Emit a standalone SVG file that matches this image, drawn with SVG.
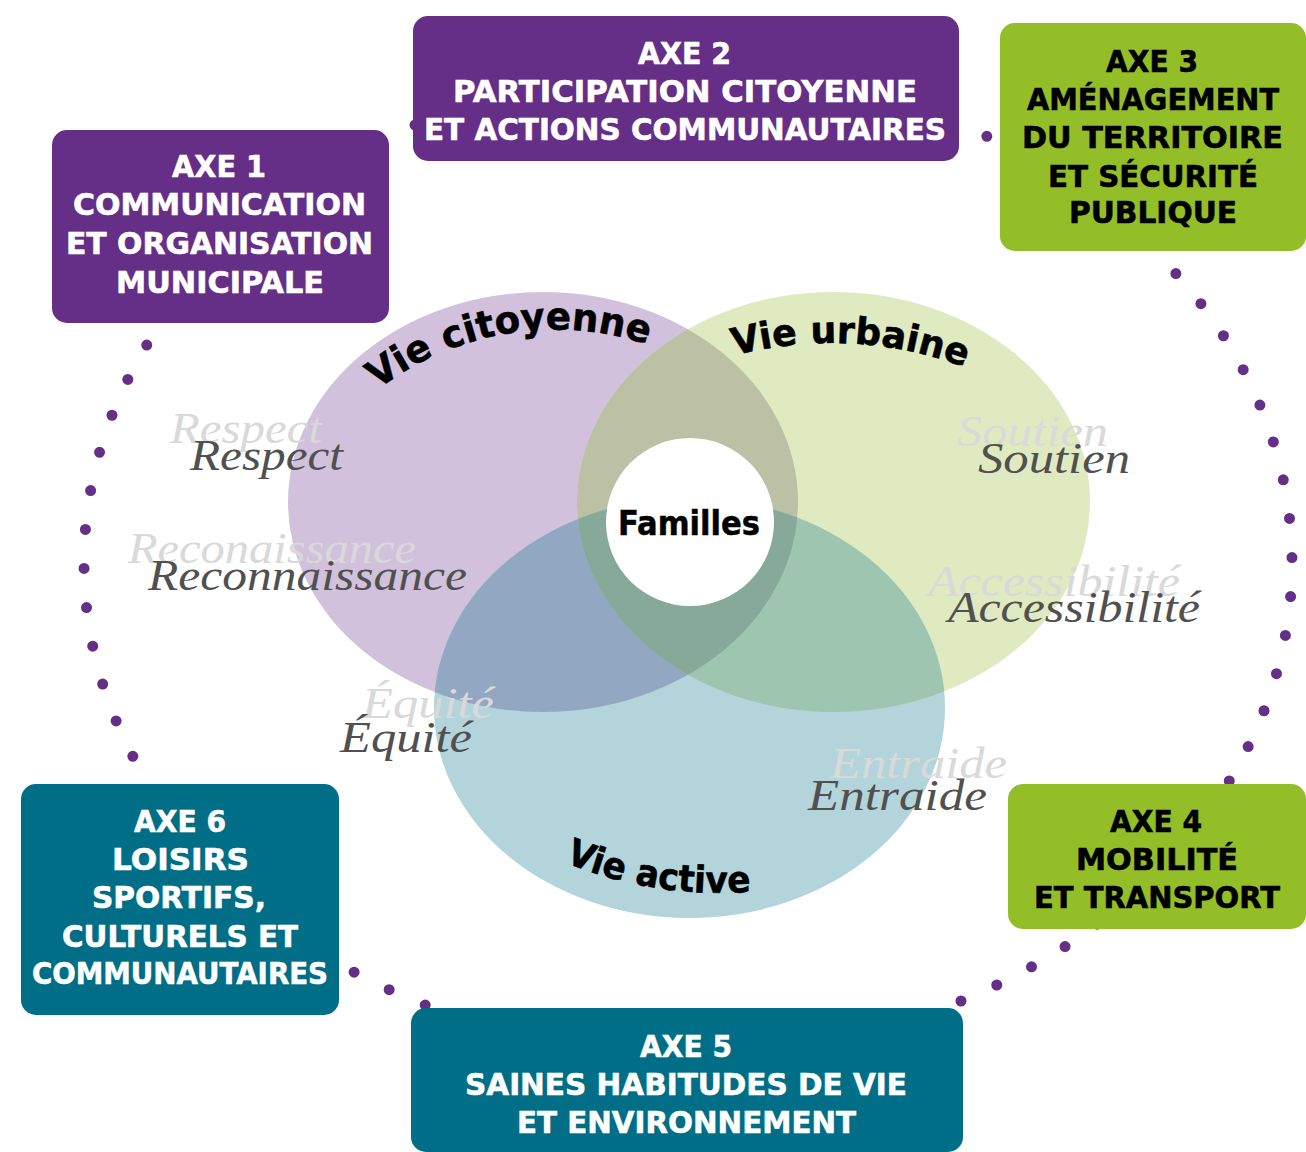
<svg xmlns="http://www.w3.org/2000/svg" width="1306" height="1152" viewBox="0 0 1306 1152">
<defs>
<style>
.bt{font-family:"DejaVu Sans","Liberation Sans",sans-serif;font-weight:bold;font-size:30px;text-anchor:middle;stroke-width:0.6px}
.w{fill:#ffffff;stroke:#ffffff}
.k{fill:#000000;stroke:#000000}
.purple{fill:#652F87}
.green{fill:#93BE27}
.teal{fill:#006E86}
.sc{font-family:"Liberation Serif",serif;font-style:italic;font-size:45px}
.dk{fill:#505050}
.lt{fill:#D9D9D9}
.arc{font-family:"DejaVu Sans","Liberation Sans",sans-serif;font-weight:bold;fill:#000000}
.dots{fill:none;stroke:#652F87;stroke-width:11;stroke-linecap:round;stroke-dasharray:0 1;stroke-dashoffset:0.14}
</style>
<clipPath id="cP"><ellipse cx="543" cy="502" rx="255" ry="210"/></clipPath>
<clipPath id="cG"><ellipse cx="833.5" cy="502" rx="256.5" ry="210"/></clipPath>
<path id="arcCit" d="M 331 434.2 A 293 293 0 0 1 701.9 368.8"/>
<path id="arcUrb" d="M 641.5 393.9 A 380 380 0 0 1 1075.8 431.9"/>
<path id="arcAct" d="M 515.5 838.2 A 409 409 0 0 0 924.5 838.2"/>
</defs>

<g id="connectors">
<path class="dots" pathLength="88" d="M 1292 563 A 604 491 0 0 1 84 563 A 604 491 0 0 1 1292 563 Z"/>
</g>

<g id="venn">
<ellipse id="vie-citoyenne" cx="543" cy="502" rx="255" ry="210" fill="#D1C1DC"/>
<ellipse id="vie-urbaine" cx="833.5" cy="502" rx="256.5" ry="210" fill="#E0EAC0"/>
<ellipse id="vie-active" cx="689.5" cy="708" rx="255.5" ry="210" fill="#B3D4DB"/>
<ellipse cx="833.5" cy="502" rx="256.5" ry="210" fill="#BCC0A5" clip-path="url(#cP)"/>
<ellipse cx="689.5" cy="708" rx="255.5" ry="210" fill="#91A7C2" clip-path="url(#cP)"/>
<ellipse cx="689.5" cy="708" rx="255.5" ry="210" fill="#9DC5B0" clip-path="url(#cG)"/>
<g clip-path="url(#cP)"><ellipse cx="689.5" cy="708" rx="255.5" ry="210" fill="#86A999" clip-path="url(#cG)"/></g>
</g>

<g id="familles">
<circle cx="690" cy="522" r="84" fill="#ffffff"/>
<text x="689" y="535" class="arc" font-size="33" text-anchor="middle" textLength="142" lengthAdjust="spacingAndGlyphs" stroke="#000" stroke-width="0.5">Familles</text>
</g>

<g id="arc-labels" stroke="#000" stroke-width="0.6">
<text class="arc" font-size="38"><textPath href="#arcCit" startOffset="65" textLength="284" lengthAdjust="spacingAndGlyphs">Vie citoyenne</textPath></text>
<text class="arc" font-size="37"><textPath href="#arcUrb" startOffset="101" textLength="234" lengthAdjust="spacingAndGlyphs">Vie urbaine</textPath></text>
<text class="arc" font-size="37"><textPath href="#arcAct" startOffset="55" textLength="190" lengthAdjust="spacingAndGlyphs">Vie active</textPath></text>
</g>

<g id="values">
<text class="sc lt" x="170" y="443" textLength="152" lengthAdjust="spacingAndGlyphs">Respect</text>
<text class="sc dk" x="190" y="470" textLength="153" lengthAdjust="spacingAndGlyphs">Respect</text>
<text class="sc lt" x="128" y="563" textLength="288" lengthAdjust="spacingAndGlyphs">Reconaissance</text>
<text class="sc dk" x="148" y="590" textLength="319" lengthAdjust="spacingAndGlyphs">Reconnaissance</text>
<text class="sc lt" x="957" y="446" textLength="151" lengthAdjust="spacingAndGlyphs">Soutien</text>
<text class="sc dk" x="978" y="473" textLength="152" lengthAdjust="spacingAndGlyphs">Soutien</text>
<text class="sc lt" x="928" y="596" textLength="252" lengthAdjust="spacingAndGlyphs">Accessibilité</text>
<text class="sc dk" x="948" y="622" textLength="252" lengthAdjust="spacingAndGlyphs">Accessibilité</text>
<text class="sc lt" x="362" y="718" textLength="132" lengthAdjust="spacingAndGlyphs">Équité</text>
<text class="sc dk" x="340" y="752" textLength="132" lengthAdjust="spacingAndGlyphs">Équité</text>
<text class="sc lt" x="830" y="778" textLength="177" lengthAdjust="spacingAndGlyphs">Entraide</text>
<text class="sc dk" x="808" y="810" textLength="179" lengthAdjust="spacingAndGlyphs">Entraide</text>
</g>

<g id="axe1">
<rect class="purple" x="52" y="130" width="337" height="193" rx="15"/>
<text class="bt w" x="219" y="176.5" textLength="94" lengthAdjust="spacingAndGlyphs">AXE 1</text>
<text class="bt w" x="219.5" y="215" textLength="293" lengthAdjust="spacingAndGlyphs">COMMUNICATION</text>
<text class="bt w" x="219.5" y="254" textLength="307" lengthAdjust="spacingAndGlyphs">ET ORGANISATION</text>
<text class="bt w" x="220" y="292.5" textLength="208" lengthAdjust="spacingAndGlyphs">MUNICIPALE</text>
</g>

<g id="axe2">
<rect class="purple" x="413" y="16" width="546" height="145" rx="15"/>
<text class="bt w" x="684.5" y="63.5" textLength="93" lengthAdjust="spacingAndGlyphs">AXE 2</text>
<text class="bt w" x="685" y="101.5" textLength="464" lengthAdjust="spacingAndGlyphs">PARTICIPATION CITOYENNE</text>
<text class="bt w" x="685" y="140" textLength="522" lengthAdjust="spacingAndGlyphs">ET ACTIONS COMMUNAUTAIRES</text>
</g>

<g id="axe3">
<rect class="green" x="1000" y="23" width="306" height="228" rx="15"/>
<text class="bt k" x="1152" y="71.5" textLength="92" lengthAdjust="spacingAndGlyphs">AXE 3</text>
<text class="bt k" x="1153" y="110" textLength="252" lengthAdjust="spacingAndGlyphs">AMÉNAGEMENT</text>
<text class="bt k" x="1152.5" y="148" textLength="261" lengthAdjust="spacingAndGlyphs">DU TERRITOIRE</text>
<text class="bt k" x="1153" y="186.5" textLength="210" lengthAdjust="spacingAndGlyphs">ET SÉCURITÉ</text>
<text class="bt k" x="1153" y="223" textLength="168" lengthAdjust="spacingAndGlyphs">PUBLIQUE</text>
</g>

<g id="axe4">
<rect class="green" x="1008" y="784" width="298" height="145" rx="15"/>
<text class="bt k" x="1156" y="831.5" textLength="92" lengthAdjust="spacingAndGlyphs">AXE 4</text>
<text class="bt k" x="1157" y="870" textLength="162" lengthAdjust="spacingAndGlyphs">MOBILITÉ</text>
<text class="bt k" x="1157" y="908" textLength="246" lengthAdjust="spacingAndGlyphs">ET TRANSPORT</text>
</g>

<g id="axe5">
<rect class="teal" x="411" y="1008" width="552" height="144" rx="15"/>
<text class="bt w" x="686" y="1056.5" textLength="92" lengthAdjust="spacingAndGlyphs">AXE 5</text>
<text class="bt w" x="686" y="1095" textLength="442" lengthAdjust="spacingAndGlyphs">SAINES HABITUDES DE VIE</text>
<text class="bt w" x="686.5" y="1133" textLength="339" lengthAdjust="spacingAndGlyphs">ET ENVIRONNEMENT</text>
</g>

<g id="axe6">
<rect class="teal" x="21" y="784" width="318" height="231" rx="15"/>
<text class="bt w" x="180" y="831.5" textLength="92" lengthAdjust="spacingAndGlyphs">AXE 6</text>
<text class="bt w" x="180.5" y="870" textLength="137" lengthAdjust="spacingAndGlyphs">LOISIRS</text>
<text class="bt w" x="179" y="908" textLength="174" lengthAdjust="spacingAndGlyphs">SPORTIFS,</text>
<text class="bt w" x="180" y="946.5" textLength="236" lengthAdjust="spacingAndGlyphs">CULTURELS ET</text>
<text class="bt w" x="180" y="984" textLength="296" lengthAdjust="spacingAndGlyphs">COMMUNAUTAIRES</text>
</g>
</svg>
